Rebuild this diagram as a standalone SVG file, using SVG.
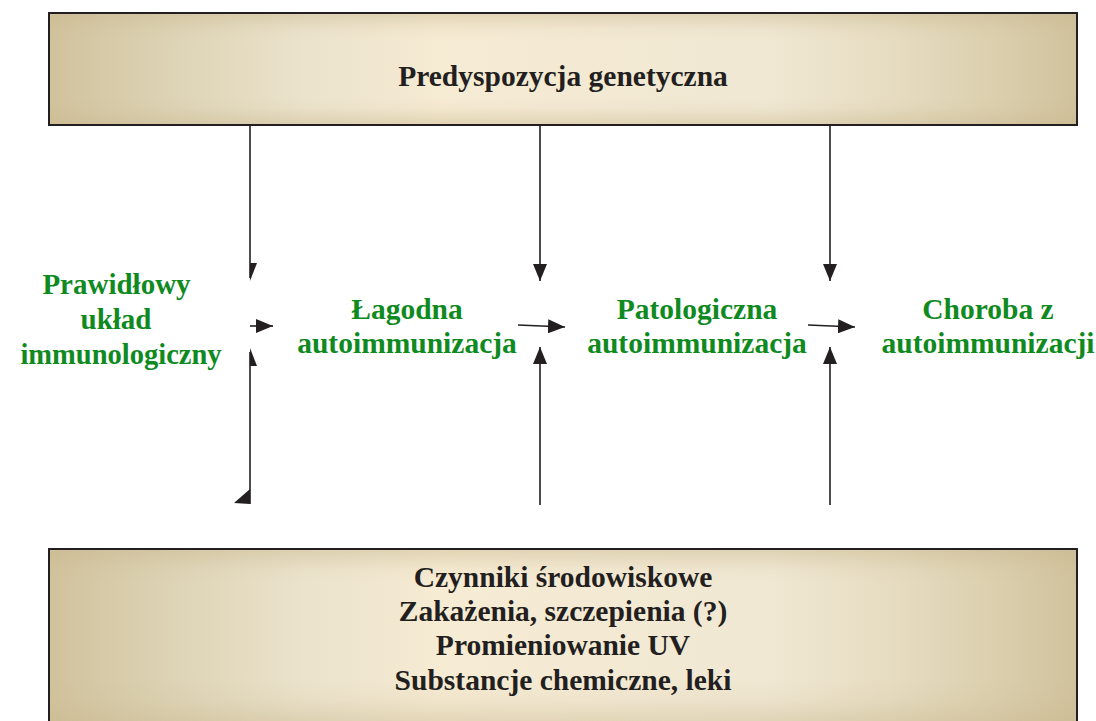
<svg xmlns="http://www.w3.org/2000/svg" width="1096" height="721" viewBox="0 0 1096 721">
<style>
.box{stroke:#231f20;stroke-width:2}
.dark{font-family:'Liberation Serif',serif;font-weight:bold;font-size:29.5px;fill:#231f20;text-anchor:middle}
.green{font-family:'Liberation Serif',serif;font-weight:bold;font-size:29.5px;fill:#0f8a1f;text-anchor:middle}
.ln{stroke:#231f20;stroke-width:1.6;fill:none}
.ah{fill:#231f20}
</style>
<defs>
<linearGradient id="hg" x1="0" y1="0" x2="1" y2="0">
<stop offset="0" stop-color="#d0c29c"/>
<stop offset="0.12" stop-color="#ddd3b5"/>
<stop offset="0.25" stop-color="#ebe3cc"/>
<stop offset="0.38" stop-color="#f6ebd3"/>
<stop offset="0.5" stop-color="#f4ead4"/>
<stop offset="0.7" stop-color="#f0e8d3"/>
<stop offset="0.82" stop-color="#e6dcc1"/>
<stop offset="0.92" stop-color="#dbcfae"/>
<stop offset="1" stop-color="#d0c29c"/>
</linearGradient>
<linearGradient id="vg" x1="0" y1="0" x2="0" y2="1">
<stop offset="0" stop-color="#c9b78e" stop-opacity="0.45"/>
<stop offset="0.15" stop-color="#c9b78e" stop-opacity="0.08"/>
<stop offset="0.25" stop-color="#c9b78e" stop-opacity="0"/>
<stop offset="0.75" stop-color="#c9b78e" stop-opacity="0"/>
<stop offset="0.85" stop-color="#c9b78e" stop-opacity="0.08"/>
<stop offset="1" stop-color="#c9b78e" stop-opacity="0.45"/>
</linearGradient>
<linearGradient id="vg2" x1="0" y1="0" x2="0" y2="1">
<stop offset="0" stop-color="#c9b78e" stop-opacity="0.45"/>
<stop offset="0.12" stop-color="#c9b78e" stop-opacity="0.08"/>
<stop offset="0.2" stop-color="#c9b78e" stop-opacity="0"/>
<stop offset="0.75" stop-color="#c9b78e" stop-opacity="0"/>
<stop offset="0.88" stop-color="#c9b78e" stop-opacity="0.12"/>
<stop offset="1" stop-color="#c9b78e" stop-opacity="0.4"/>
</linearGradient>
<marker id="arr" viewBox="0 0 17 14" refX="17" refY="7" markerWidth="17" markerHeight="14" markerUnits="userSpaceOnUse" orient="auto">
<path d="M0,0 L17,7 L0,14 Z" fill="#231f20"/>
</marker>
</defs>
<rect width="1096" height="721" fill="#ffffff"/>

<g id="node-predyspozycja">
<rect x="49" y="13" width="1028" height="112" fill="url(#hg)"/>
<rect x="49" y="13" width="1028" height="112" fill="url(#vg)"/>
<rect class="box" x="49" y="13" width="1028" height="112" fill="none"/>
<text class="dark" x="563" y="86">Predyspozycja genetyczna</text>
</g>

<g id="node-czynniki">
<rect x="49" y="549" width="1028" height="190" fill="url(#hg)"/>
<rect x="49" y="549" width="1028" height="172" fill="url(#vg2)"/>
<rect class="box" x="49" y="549" width="1028" height="190" fill="none"/>
<text class="dark" x="563" y="587">Czynniki środowiskowe</text>
<text class="dark" x="563" y="621">Zakażenia, szczepienia (?)</text>
<text class="dark" x="563" y="655">Promieniowanie UV</text>
<text class="dark" x="563" y="690">Substancje chemiczne, leki</text>
</g>

<g id="node-prawidlowy">
<text class="green" x="116.5" y="294" style="font-size:29px">Prawidłowy</text>
<text class="green" x="116" y="329" style="font-size:29px">układ</text>
<text class="green" x="121" y="364" style="font-size:28.5px">immunologiczny</text>
</g>

<g id="node-lagodna">
<text class="green" x="407" y="319">Łagodna</text>
<text class="green" x="407" y="353">autoimmunizacja</text>
</g>

<g id="node-patologiczna">
<text class="green" x="697" y="319">Patologiczna</text>
<text class="green" x="697" y="353">autoimmunizacja</text>
</g>

<g id="node-choroba">
<text class="green" x="988" y="319">Choroba z</text>
<text class="green" x="988" y="353">autoimmunizacji</text>
</g>

<g id="connectors">
<line class="ln" x1="250" y1="125" x2="250" y2="278"/>
<polygon class="ah" points="250,263 257,263 250,281"/>
<line class="ln" x1="250" y1="504" x2="250" y2="352"/>
<polygon class="ah" points="250,366 257,366 250,348"/>
<polygon class="ah" points="250,489 250,504 234,503"/>
<line class="ln" x1="250" y1="326" x2="273" y2="326" marker-end="url(#arr)"/>
<line class="ln" x1="540" y1="125" x2="540" y2="281" marker-end="url(#arr)"/>
<line class="ln" x1="540" y1="505" x2="540" y2="347" marker-end="url(#arr)"/>
<line class="ln" x1="518" y1="325" x2="565" y2="327" marker-end="url(#arr)"/>
<line class="ln" x1="830" y1="125" x2="830" y2="281" marker-end="url(#arr)"/>
<line class="ln" x1="830" y1="505" x2="830" y2="347" marker-end="url(#arr)"/>
<line class="ln" x1="808" y1="325" x2="855" y2="327" marker-end="url(#arr)"/>
</g>
</svg>
